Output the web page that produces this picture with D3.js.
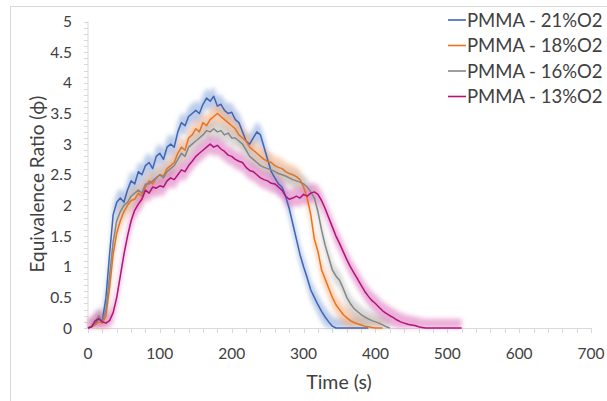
<!DOCTYPE html>
<html><head><meta charset="utf-8">
<script src="https://cdn.jsdelivr.net/npm/d3@7"></script>
<style>
body{margin:0;background:#fff;}
svg{display:block;font-family:Lato,"Open Sans",sans-serif;}
</style></head><body>
<svg id="c" width="607" height="401"></svg>
<script>
const seriesNames = ["PMMA - 21%O2","PMMA - 18%O2","PMMA - 16%O2","PMMA - 13%O2"];
const seriesColors = ["#3F65B5","#E8731F","#868686","#B0137C"];
const bandColors = ["#8FAADC","#F4B183","#BFBFBF","#E07CC0"];
const timeStep = 5;
const o2_21 = [0,0.02,0.08,0.15,0.12,0.5,1.2,1.85,2.05,2.12,2.05,2.25,2.4,2.35,2.55,2.5,2.65,2.7,2.6,2.8,2.85,2.75,2.95,3.0,2.95,3.2,3.35,3.3,3.45,3.5,3.55,3.5,3.65,3.75,3.7,3.78,3.62,3.65,3.55,3.5,3.52,3.4,3.35,3.2,3.05,3.0,3.1,3.2,3.15,2.95,2.75,2.55,2.45,2.35,2.3,2.15,1.95,1.7,1.45,1.2,1.0,0.82,0.62,0.5,0.38,0.27,0.18,0.1,0.03,0,0,0,0,0,0,0,0,0,0];
const o2_18 = [0,0.02,0.05,0.1,0.08,0.2,0.65,1.2,1.55,1.75,1.9,2.0,2.08,2.1,2.2,2.15,2.3,2.4,2.35,2.45,2.5,2.48,2.6,2.65,2.7,2.85,2.95,2.9,3.1,3.15,3.25,3.2,3.35,3.3,3.4,3.45,3.5,3.45,3.4,3.35,3.3,3.25,3.15,3.1,3.05,2.95,2.9,2.85,2.8,2.75,2.72,2.7,2.65,2.62,2.6,2.55,2.52,2.5,2.47,2.42,2.3,2.12,1.85,1.45,1.25,0.95,0.8,0.65,0.5,0.38,0.3,0.22,0.17,0.12,0.09,0.07,0.05,0.03,0.02,0.01,0,0,0];
const o2_16 = [0,0.03,0.1,0.2,0.1,0.3,0.85,1.4,1.75,1.9,2.0,2.05,2.15,2.2,2.25,2.2,2.35,2.35,2.4,2.45,2.5,2.45,2.55,2.6,2.65,2.75,2.85,2.8,2.95,3.0,3.05,3.1,3.15,3.22,3.2,3.25,3.2,3.22,3.15,3.18,3.1,3.1,3.05,3.0,2.9,2.8,2.75,2.7,2.65,2.62,2.6,2.58,2.55,2.52,2.5,2.48,2.45,2.42,2.4,2.38,2.35,2.3,2.22,2.12,1.9,1.6,1.35,1.15,0.95,0.85,0.78,0.65,0.5,0.4,0.32,0.27,0.22,0.18,0.15,0.12,0.1,0.08,0.05,0.02,0];
const o2_13 = [0,0.02,0.12,0.15,0.1,0.08,0.12,0.25,0.5,0.85,1.2,1.5,1.75,1.92,2.02,2.1,2.25,2.2,2.3,2.28,2.32,2.3,2.4,2.45,2.42,2.5,2.58,2.55,2.65,2.72,2.8,2.85,2.9,2.95,3.0,2.95,2.98,2.92,2.88,2.82,2.8,2.75,2.72,2.7,2.62,2.57,2.55,2.5,2.45,2.42,2.4,2.36,2.35,2.3,2.25,2.15,2.1,2.12,2.15,2.12,2.18,2.15,2.2,2.22,2.18,2.08,1.95,1.8,1.65,1.5,1.38,1.25,1.12,1.0,0.9,0.8,0.7,0.6,0.52,0.45,0.4,0.34,0.28,0.24,0.2,0.17,0.13,0.1,0.08,0.06,0.05,0.04,0.02,0.01,0,0,0,0,0,0,0,0,0,0,0];
const bandHalf = [0.16,0.16,0.14,0.15];
const xTicks = [0,100,200,300,400,500,600,700];
const yTicks = [0,0.5,1,1.5,2,2.5,3,3.5,4,4.5,5];
const allSeries = [o2_21,o2_18,o2_16,o2_13];

const svg = d3.select("#c");
svg.append("rect").attr("x",10.5).attr("y",6.5).attr("width",610).attr("height",410)
  .attr("fill","none").attr("stroke","#d9d9d9");

const x = d3.scaleLinear().domain([0,700]).range([88,591]);
const y = d3.scaleLinear().domain([0,5]).range([328,21.5]);

const defs = svg.append("defs");
defs.append("filter").attr("id","blur").append("feGaussianBlur").attr("stdDeviation",2);

const gy = svg.append("g");
gy.append("line").attr("x1",88).attr("x2",88).attr("y1",y(5)).attr("y2",y(0)).attr("stroke","#d9d9d9");
gy.selectAll("line.m").data(d3.range(0,51).map(i=>i/10)).join("line")
  .attr("x1",84).attr("x2",88).attr("y1",d=>Math.round(y(d))+0.5).attr("y2",d=>Math.round(y(d))+0.5)
  .attr("stroke","#d9d9d9");
gy.selectAll("text").data(yTicks).join("text")
  .attr("x",72).attr("y",d=>y(d)).attr("dy","0.36em").attr("text-anchor","end")
  .attr("font-size",15.5).attr("fill","#404040").text(d=>d);

const gx = svg.append("g");
gx.append("line").attr("x1",x(0)).attr("x2",x(700)).attr("y1",328.5).attr("y2",328.5).attr("stroke","#d9d9d9");
gx.selectAll("line.m").data(d3.range(0,701,20)).join("line")
  .attr("x1",d=>Math.round(x(d))+0.5).attr("x2",d=>Math.round(x(d))+0.5).attr("y1",328).attr("y2",333)
  .attr("stroke","#d9d9d9");
gx.selectAll("text").data(xTicks).join("text")
  .attr("x",d=>x(d)).attr("y",353).attr("dy","0.36em").attr("text-anchor","middle")
  .attr("font-size",15.5).attr("fill","#404040").text(d=>d);

svg.append("text").attr("x",339).attr("y",382).attr("dy","0.36em").attr("text-anchor","middle")
  .attr("font-size",19.5).attr("fill","#404040").text("Time (s)");
svg.append("text").attr("transform","translate(37,184) rotate(-90)").attr("dy","0.36em").attr("text-anchor","middle")
  .attr("font-size",19).attr("fill","#404040").text("Equivalence Ratio (ϕ)");

const plot = svg.append("g");
const bands = plot.append("g").attr("filter","url(#blur)");
allSeries.forEach((s,i)=>{
  const area = d3.area().x((d,j)=>x(j*timeStep))
    .y0(d=>y(Math.max(0,d-bandHalf[i]))).y1(d=>y(d+bandHalf[i]));
  bands.append("path").datum(s).attr("d",area).attr("fill",bandColors[i]).attr("opacity",0.6);
});
allSeries.forEach((s,i)=>{
  const line = d3.line().x((d,j)=>x(j*timeStep)).y(d=>y(d));
  plot.append("path").datum(s).attr("d",line).attr("fill","none")
    .attr("stroke",seriesColors[i]).attr("stroke-width",1.5).attr("stroke-linejoin","round");
});

const lg = svg.append("g");
seriesNames.forEach((n,i)=>{
  const yy = 20 + i*25.5;
  lg.append("line").attr("x1",448).attr("x2",466).attr("y1",yy).attr("y2",yy)
    .attr("stroke",seriesColors[i]).attr("stroke-width",1.6);
  lg.append("text").attr("x",467).attr("y",yy).attr("dy","0.36em").attr("font-size",18.5)
    .attr("fill","#404040").text(n);
});
</script></body></html>
